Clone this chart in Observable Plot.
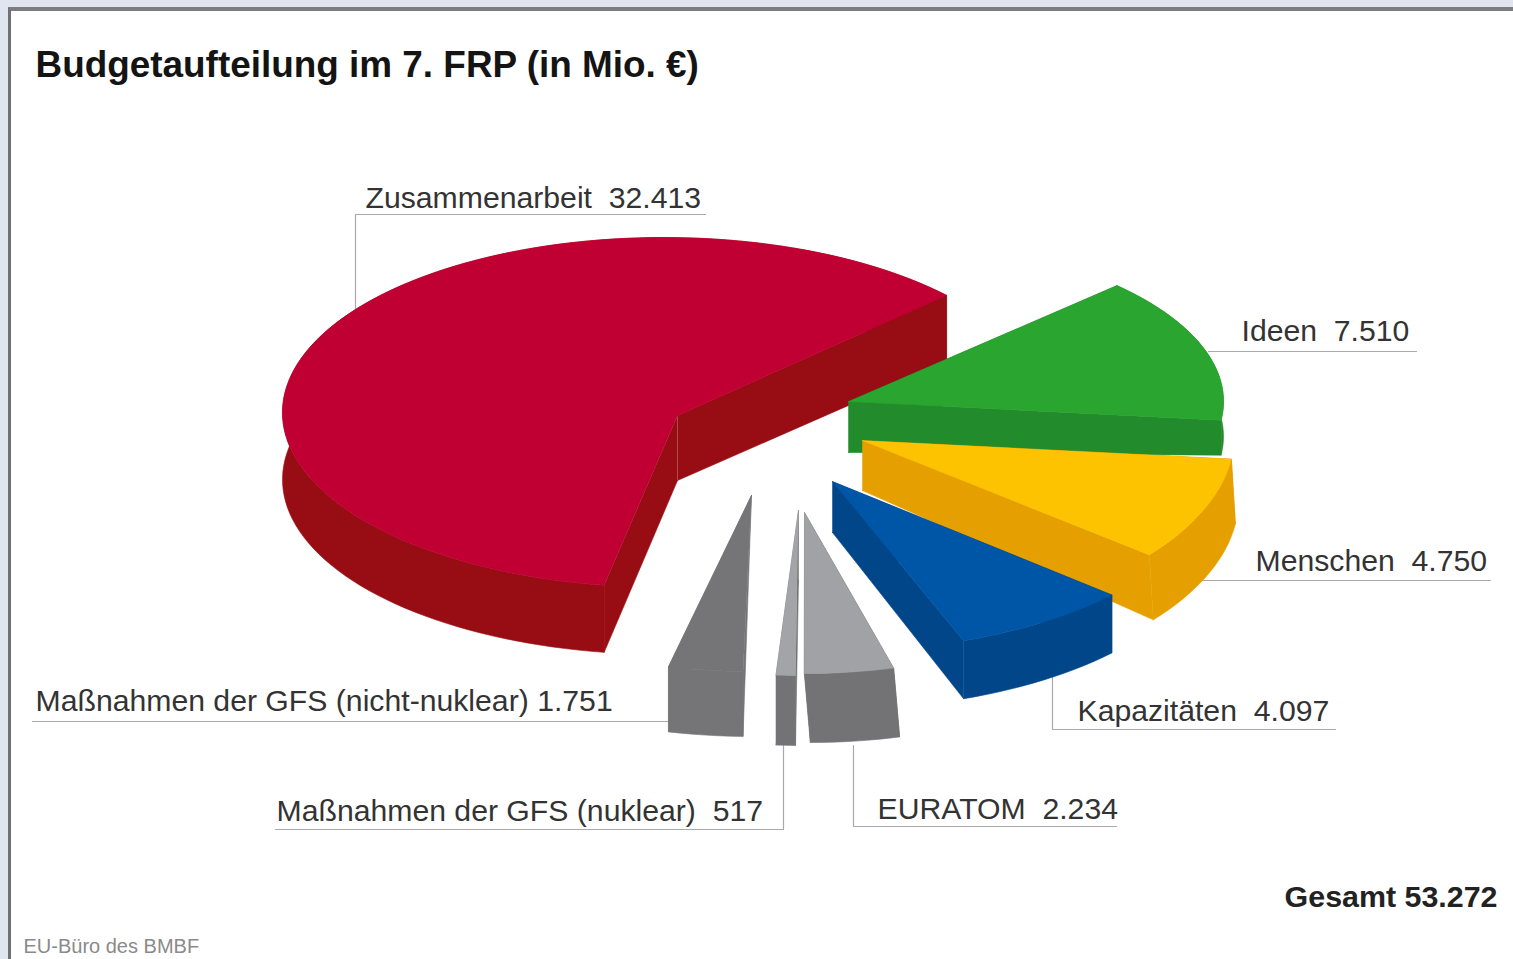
<!DOCTYPE html>
<html lang="de">
<head>
<meta charset="utf-8">
<title>Budgetaufteilung im 7. FRP</title>
<script src="https://cdn.jsdelivr.net/npm/d3@7"></script>
<script src="https://cdn.jsdelivr.net/npm/@observablehq/plot@0.6"></script>
<style>
  html, body { margin: 0; padding: 0; width: 1513px; height: 959px; overflow: hidden; background: #e0e5ef; }
  #frame { position: absolute; left: 8px; top: 7px; right: 0; bottom: 0; background: #fff;
           border-top: 4px solid #7b7d80; border-left: 3px solid #6f7173; }
  #chart { position: absolute; left: 0; top: 0; }
</style>
</head>
<body>
<div id="frame"></div>
<div id="chart"></div>
<script>
// ---- data ----
const categories = ["Zusammenarbeit", "Maßnahmen der GFS (nicht-nuklear)", "Maßnahmen der GFS (nuklear)", "EURATOM", "Kapazitäten", "Menschen", "Ideen"];
const values = [32413, 1751, 517, 2234, 4097, 4750, 7510];
const separators = ["\u00a0\u00a0", " ", "\u00a0\u00a0", "\u00a0\u00a0", "\u00a0\u00a0", "\u00a0\u00a0", "\u00a0\u00a0"];
const topColors = ["#c00033", "#757577", "#a2a4a7", "#a0a2a5", "#0056a6", "#fec300", "#2aa52f"];
const sideColors = ["#980d14", "#757577", "#737375", "#737375", "#004688", "#e5a000", "#228b2b"];
const titleText = "Budgetaufteilung im 7. FRP (in Mio. €)";
const sourceText = "EU-Büro des BMBF";
const totalLabel = "Gesamt";

// ---- drawing geometry of the exploded pie (one row per slice, same order) ----
const firstAngle = 43.8;
const apexX   = [677, 751, 798, 804, 832, 862, 848];
const apexY   = [415, 495, 510, 512, 481, 440, 401];
const centerX = [663, 751, 798, 804, 832, 862, 848];
const centerY = [412, 495, 510, 512, 481, 434, 401];
const radiusX = [381, 365, 320, 343, 375, 372, 375];
const radiusY = [175, 176, 165, 161, 170, 189, 166];
const turn    = [-1.8, -6, -8.7, -8.2, -2.8, -0.5, 0.5];
const depthIn  = [65, 0, 70, 69, 51, 50, 51];
const depthOut = [67, 65, 70, 69, 58, 65, 35];
const shiftOut = [0, 0, 0, 6, 0, 4, 0];
const paintOrder = [0, 6, 5, 4, 1, 2, 3];

// ---- leaders and label anchors, same order as categories ----
const labelX = [365, 35, 276, 877, 1077, 1255, 1241];
const labelY = [198, 701, 811, 809, 711, 561, 331];
const leaderX = [[355, 355, 705], [670, 32], [783, 783, 275], [853, 853, 1116], [1052, 1052, 1335], [1195, 1490], [1208, 1416]];
const leaderY = [[310, 214, 214], [721, 721], [745, 829, 829], [745, 826, 826], [675, 729, 729], [580, 580], [351, 351]];

// ---- build faces from the values ----
const total = d3.sum(values);
const de = (v) => v.toLocaleString("de-DE");
let cum = 0;
const angles = values.map((v, i) => {
  const a0 = firstAngle + cum / total * 360 + turn[i];
  cum += v;
  return [a0, firstAngle + cum / total * 360 + turn[i]];
});

const faces = [];
let faceId = 0;
function pushFace(pts, color) {
  faceId++;
  for (const [x, y] of pts) faces.push({face: faceId, color, x, y});
}
for (const i of paintOrder) {
  const [a0, a1] = angles[i];
  const n = Math.max(2, Math.ceil((a1 - a0) / 2));
  const arc = d3.range(n + 1).map((k) => {
    const t = (a0 + (a1 - a0) * k / n) * Math.PI / 180;
    return [centerX[i] + radiusX[i] * Math.cos(t), centerY[i] - radiusY[i] * Math.sin(t)];
  });
  const apex = [apexX[i], apexY[i]];
  const apexDown = [apexX[i], apexY[i] + depthIn[i]];
  const down = ([x, y]) => [x + shiftOut[i], y + depthOut[i]];
  // cut faces, then the rim, then the top
  pushFace([apex, arc[0], down(arc[0]), apexDown], sideColors[i]);
  pushFace([apex, arc[n], down(arc[n]), apexDown], sideColors[i]);
  pushFace([...arc, ...arc.slice().reverse().map(down)], sideColors[i]);
  pushFace([apex, ...arc], topColors[i]);
}

const leaders = leaderX.flatMap((xs, i) => xs.map((x, k) => ({id: i, x, y: leaderY[i][k]})));
const labels = categories.map((c, i) => ({
  text: c + separators[i] + de(values[i]), x: labelX[i], y: labelY[i]
}));

const font = "'Liberation Sans', Arial, sans-serif";
const plot = Plot.plot({
  width: 1513,
  height: 959,
  margin: 0,
  x: {axis: null, domain: [0, 1513], range: [0, 1513]},
  y: {axis: null, domain: [0, 959], range: [0, 959]},
  color: {type: "identity"},
  style: {background: "transparent", fontFamily: font},
  marks: [
    Plot.line(leaders, {x: "x", y: "y", z: "id", stroke: "#a9a9a9", strokeWidth: 1.2}),
    Plot.line(faces, {x: "x", y: "y", z: "face", fill: "color", stroke: "color", strokeWidth: 0.6}),
    Plot.text(labels, {x: "x", y: "y", text: "text", textAnchor: "start", fontSize: 30.2, fill: "#333"}),
    Plot.text([titleText], {x: 35, y: 65, textAnchor: "start", fontSize: 36.9, fontWeight: "bold", fill: "#141414"}),
    Plot.text([`${totalLabel} ${de(total)}`], {x: 1497, y: 897, textAnchor: "end", fontSize: 30.4, fontWeight: "bold", fill: "#222"}),
    Plot.text([sourceText], {x: 23, y: 946, textAnchor: "start", fontSize: 20, fill: "#8a8a8a"})
  ]
});
document.getElementById("chart").appendChild(plot);
</script>
</body>
</html>
